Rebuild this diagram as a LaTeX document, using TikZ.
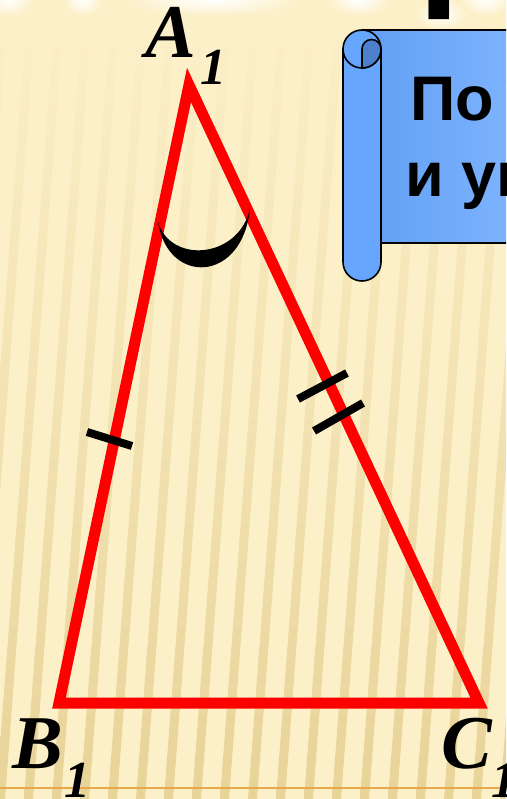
\documentclass[tikz,border=0pt]{standalone}
\usepackage{fontspec}
\setmainfont{Liberation Serif}
\newfontfamily\scrollfont{Liberation Sans}
\definecolor{cPaper}{HTML}{FCF0C9}
\definecolor{cStripe}{HTML}{E8D398}
\definecolor{cRule}{HTML}{E8A94A}
\definecolor{cSide}{HTML}{FF0000}
\definecolor{cScroll}{HTML}{66A6FF}
\definecolor{cCurl}{HTML}{4D80CC}
\usetikzlibrary{calc}

\begin{document}
\begin{tikzpicture}[x=1pt,y=-1pt,
      side/.style={draw=cSide,line width=11pt,line join=miter},
      tick/.style={draw=black,line width=8pt},
      lbl/.style={font=\fontsize{76}{76}\selectfont\bfseries\itshape,inner sep=0pt,anchor=base},
      sub/.style={font=\fontsize{52}{52}\selectfont\bfseries\itshape,inner sep=0pt,anchor=base},
      scroll/.style={fill=cScroll,draw=black,line width=1.6pt},
      stxt/.style={font=\fontsize{63}{63}\selectfont\scrollfont\bfseries,inner sep=0pt,anchor=base west},
      glow/.style={inner color=white,outer color=cPaper}]
    \useasboundingbox (0,0) rectangle (506,799);
    \clip (0,0) rectangle (506,799);
    % paper and stripes
    \fill[cPaper] (0,0) rectangle (506,799);
    \foreach \x in {-60,-32,...,510}
      \shade[top color=cPaper,bottom color=cStripe,middle color=cPaper!55!cStripe]
        (\x+60,0) -- (\x+69,0) -- (\x+9,799) -- (\x,799) -- cycle;
    \draw[cRule,line width=2pt] (0,788) -- (506,788);
    % title remains at the top
    \foreach \x/\w in {8/26,83/20,213/88,358/32,486/26}
      \shade[glow] (\x,0) ellipse (\w pt and 16pt);
    \shade[glow] (441,14) ellipse (26pt and 16pt);
    \node[font=\fontsize{150}{150}\selectfont\scrollfont\bfseries,inner sep=0pt,anchor=base west] (tr) at (418,-11) {р};
    % scroll
    \shade[left color=cScroll!95!black,right color=cScroll!85!white] (362,30) rectangle (510,243);
    \draw[black,line width=1.6pt] (362,30) -- (510,30);
    \draw[black,line width=1.6pt] (381,243) -- (510,243);
    \filldraw[scroll] (343,49) -- (343,262) arc (180:0:19) -- (381,49) -- cycle;
    \filldraw[scroll] (362,49) circle (19pt);
    \filldraw[fill=cCurl,draw=black,line width=1.6pt] (362,68) -- (362,49) arc (180:360:9.5) arc (0:90:19) -- cycle;
    \node[stxt] (t1) at (410,121) {По двум};
    \node[stxt] (t2) at (405,197) {и углу};
    % triangle
    \coordinate (A) at (189,85);
    \coordinate (B) at (59,703);
    \coordinate (C) at (479,703);
    \draw[side] (A) -- (B) -- (C) -- cycle;
    \draw[tick] (87,432) -- (132,446);
    \draw[tick] (298,399) -- (347,373);
    \draw[tick] (314,431) -- (363,403);
    \fill[black] (158,222) .. controls (168,286) and (243,283) .. (250,208)
      .. controls (240,258) and (171,265) .. cycle;
    % labels
    \node[lbl] (lA) at (171,58) {A};
    \node[sub] (sA) at (213,85) {1};
    \node[lbl] (lB) at (38,768) {B};
    \node[sub] (sB) at (77,797) {1};
    \node[lbl] (lC) at (467,768) {C};
    \node[sub] (sC) at (504,797) {1};
  \end{tikzpicture}
\end{document}
